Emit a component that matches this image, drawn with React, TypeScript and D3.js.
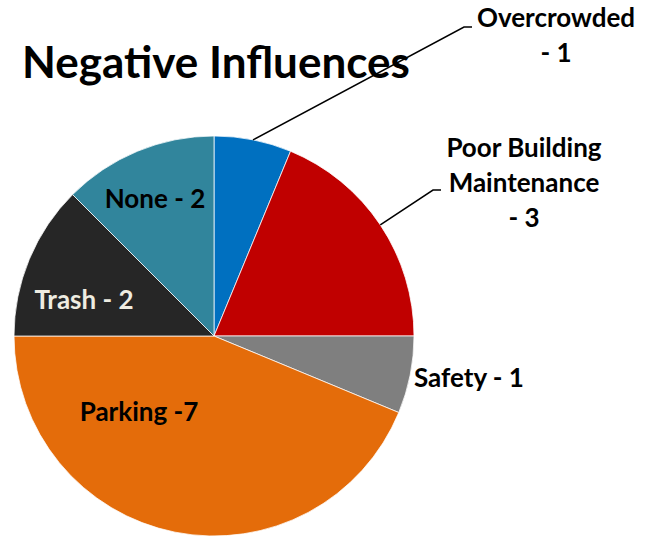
import React from "react";
import * as d3 from "d3";

const categories = ["Overcrowded", "Poor Building Maintenance", "Safety", "Parking", "Trash", "None"];
const values = [1, 3, 1, 7, 2, 2];
const colors = ["#0070C0", "#C00000", "#7F7F7F", "#E46C0A", "#262626", "#31859C"];
const labelLines = [
  ["Overcrowded", "- 1"],
  ["Poor Building", "Maintenance", "- 3"],
  ["Safety - 1"],
  ["Parking -7"],
  ["Trash - 2"],
  ["None - 2"],
];
const labelColors = ["#000", "#000", "#000", "#000", "#EEECE1", "#000"];

const W = 658;
const H = 536;
const cx = 214;
const cy = 336;
const R = 200;
const FONT = "Lato, 'Open Sans', sans-serif";

const labelPos: { x: number; y: number; anchor: string }[] = [
  { x: 556, y: 27, anchor: "middle" },
  { x: 524, y: 157, anchor: "middle" },
  { x: 414, y: 387, anchor: "start" },
  { x: 139, y: 421, anchor: "middle" },
  { x: 84, y: 309, anchor: "middle" },
  { x: 155, y: 208, anchor: "middle" },
];

export default function App() {
  const pie = d3.pie<number>().sort(null).value((d) => d);
  const arcs = pie(values);
  const arc = d3.arc<d3.PieArcDatum<number>>().innerRadius(0).outerRadius(R);
  const edge = (a: d3.PieArcDatum<number>) => {
    const m = (a.startAngle + a.endAngle) / 2;
    return [cx + R * Math.sin(m), cy - R * Math.cos(m)];
  };
  const leaders: { i: number; elbow: [number, number]; end: [number, number] }[] = [
    { i: 0, elbow: [464, 27], end: [472, 27] },
    { i: 1, elbow: [433, 190], end: [441, 190] },
  ];
  return (
    <svg width={W} height={H} style={{ position: "absolute", left: 0, top: 0 }}>
      <rect width={W} height={H} fill="#fff" />
      <g transform={`translate(${cx},${cy})`}>
        {arcs.map((a, i) => (
          <path key={i} d={arc(a) || ""} fill={colors[i]} stroke="#fff" strokeWidth={0.75} />
        ))}
      </g>
      {leaders.map((l) => {
        const [x0, y0] = edge(arcs[l.i]);
        return (
          <polyline
            key={l.i}
            points={`${x0},${y0} ${l.elbow[0]},${l.elbow[1]} ${l.end[0]},${l.end[1]}`}
            fill="none"
            stroke="#000"
            strokeWidth={1.5}
          />
        );
      })}
      <text x={22} y={78} fontFamily={FONT} fontWeight="bold" fontSize={44} fill="#000">
        Negative Influences
      </text>
      {categories.map((c, i) => (
        <text
          key={c}
          fontFamily={FONT}
          fontWeight="bold"
          fontSize={26}
          fill={labelColors[i]}
          textAnchor={labelPos[i].anchor as any}
        >
          {labelLines[i].map((t, j) => (
            <tspan key={j} x={labelPos[i].x} y={labelPos[i].y + j * 35}>
              {t}
            </tspan>
          ))}
        </text>
      ))}
    </svg>
  );
}
